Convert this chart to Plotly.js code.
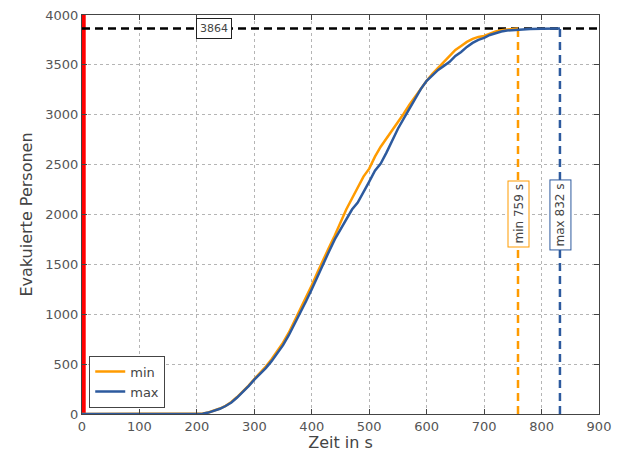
<!DOCTYPE html>
<html>
<head>
<meta charset="utf-8">
<script src="https://cdn.plot.ly/plotly-3.0.1.min.js"></script>
<style>
  html, body { margin: 0; padding: 0; background: #fff; }
  #chart { width: 620px; height: 452px; }
</style>
</head>
<body>
<div id="chart"></div>
<script>
// Evacuation curves: evacuated persons over time, fastest (min) and slowest (max) run
const tMin = [0, 200, 210, 220, 230, 240, 250, 260, 270, 280, 290, 300, 310, 320, 330, 340, 350, 360, 370, 380, 390, 400, 410, 420, 430, 440, 450, 460, 470, 480, 490, 500, 510, 520, 530, 540, 550, 560, 570, 580, 590, 600, 610, 620, 630, 640, 650, 660, 670, 680, 690, 700, 710, 720, 730, 740, 750, 759];
const personsMin = [0, 0, 4, 15, 32, 55, 82, 120, 170, 225, 285, 350, 410, 475, 550, 630, 715, 815, 930, 1050, 1170, 1290, 1420, 1550, 1670, 1790, 1920, 2050, 2160, 2270, 2380, 2460, 2580, 2680, 2760, 2850, 2930, 3010, 3100, 3180, 3270, 3340, 3410, 3470, 3520, 3580, 3650, 3690, 3730, 3760, 3780, 3790, 3815, 3835, 3848, 3856, 3861, 3864];

const tMax = [0, 200, 210, 220, 230, 240, 250, 260, 270, 280, 290, 300, 310, 320, 330, 340, 350, 360, 370, 380, 390, 400, 410, 420, 430, 440, 450, 460, 470, 480, 490, 500, 510, 520, 530, 540, 550, 560, 570, 580, 590, 600, 610, 620, 630, 640, 650, 660, 670, 680, 690, 700, 710, 720, 730, 740, 750, 760, 780, 800, 832];
const personsMax = [0, 0, 3, 14, 30, 52, 80, 115, 165, 220, 280, 345, 400, 460, 530, 605, 690, 790, 900, 1020, 1130, 1250, 1380, 1510, 1630, 1750, 1850, 1960, 2050, 2120, 2220, 2330, 2440, 2510, 2620, 2740, 2860, 2960, 3060, 3160, 3260, 3340, 3400, 3450, 3490, 3530, 3590, 3630, 3680, 3720, 3750, 3770, 3800, 3820, 3835, 3845, 3850, 3856, 3860, 3862, 3864];

// Reference markers
const totalPersons = 3864;
const evacTimeMin = 759;
const evacTimeMax = 832;
const startTime = 3;
const xRange = [0, 900];
const yRange = [0, 4000];
const xTicks = [0, 100, 200, 300, 400, 500, 600, 700, 800, 900];
const yTicks = [0, 500, 1000, 1500, 2000, 2500, 3000, 3500, 4000];

const orange = '#ff9b00';
const blue = '#2d5a9e';

const traces = [
  // start marker
  { x: [startTime, startTime], y: yRange, mode: 'lines', showlegend: false, hoverinfo: 'skip',
    line: { color: '#ff0000', width: 4 } },
  // total persons
  { x: xRange, y: [totalPersons, totalPersons], mode: 'lines', showlegend: false, hoverinfo: 'skip',
    line: { color: '#000000', width: 2.5, dash: '8px,5px' } },
  // evacuation end times
  { x: [evacTimeMin, evacTimeMin], y: [0, totalPersons], mode: 'lines', showlegend: false, hoverinfo: 'skip',
    line: { color: orange, width: 2.5, dash: '8px,5px' } },
  { x: [evacTimeMax, evacTimeMax], y: [0, totalPersons], mode: 'lines', showlegend: false, hoverinfo: 'skip',
    line: { color: blue, width: 2.5, dash: '8px,5px' } },
  { x: tMin, y: personsMin, mode: 'lines', name: 'min', line: { color: orange, width: 2.5 } },
  { x: tMax, y: personsMax, mode: 'lines', name: 'max', line: { color: blue, width: 2.5 } }
];

const axisCommon = {
  showline: true, mirror: 'ticks', linecolor: '#444', linewidth: 1,
  ticks: 'inside', ticklen: 5, tickcolor: '#444',
  showgrid: true, gridcolor: '#b5b5b5', griddash: 'dot', gridwidth: 1,
  zeroline: false,
  tickfont: { family: 'DejaVu Sans', size: 13, color: '#555' }
};

const layout = {
  width: 620, height: 452,
  margin: { l: 82, r: 21, t: 15, b: 38 },
  paper_bgcolor: '#fff', plot_bgcolor: '#fff',
  font: { family: 'DejaVu Sans', color: '#444' },
  xaxis: Object.assign({}, axisCommon, {
    range: xRange, tickvals: xTicks, ticktext: xTicks.map(String),
    title: { text: 'Zeit in s', font: { size: 16, color: '#444' }, standoff: 5 }
  }),
  yaxis: Object.assign({}, axisCommon, {
    range: yRange, tickvals: yTicks, ticktext: yTicks.map(String),
    title: { text: 'Evakuierte Personen', font: { size: 16, color: '#444' }, standoff: 8 }
  }),
  legend: {
    x: 0.014, y: 0.016, xanchor: 'left', yanchor: 'bottom',
    bgcolor: '#fff', bordercolor: '#444', borderwidth: 1,
    font: { family: 'DejaVu Sans', size: 13, color: '#444' },
    itemwidth: 30, tracegroupgap: 0
  },
  annotations: [
    { x: 230, y: totalPersons, xref: 'x', yref: 'y', text: String(totalPersons), showarrow: false,
      font: { size: 11, color: '#444' }, bgcolor: '#fff', bordercolor: '#222', borderwidth: 1, borderpad: 3 },
    { x: evacTimeMin, y: 2000, xref: 'x', yref: 'y', text: 'min ' + evacTimeMin + ' s', showarrow: false,
      textangle: -90, font: { size: 12, color: '#444' }, bgcolor: '#fff', bordercolor: orange, borderwidth: 1, borderpad: 3 },
    { x: evacTimeMax, y: 2000, xref: 'x', yref: 'y', text: 'max ' + evacTimeMax + ' s', showarrow: false,
      textangle: -90, font: { size: 12, color: '#444' }, bgcolor: '#fff', bordercolor: blue, borderwidth: 1, borderpad: 3 }
  ]
};

Plotly.newPlot('chart', traces, layout, { displayModeBar: false, staticPlot: true });
</script>
</body>
</html>
